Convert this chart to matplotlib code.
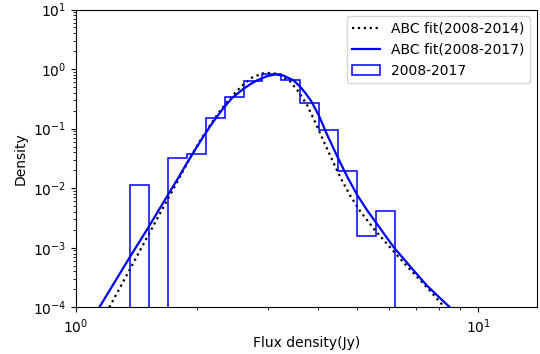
import numpy as np
import matplotlib
matplotlib.use("Agg")
import matplotlib.pyplot as plt

# Histogram of flux densities, 2008-2017 (log-spaced bins)
bin_edges = np.geomspace(1.363, 6.20, 15)
hist_density = [0.0114, 0.0, 0.0325, 0.0379, 0.149, 0.340, 0.638,
                0.817, 0.655, 0.272, 0.0937, 0.0194, 0.00157, 0.00419]

# ABC fit, 2008-2014
fit14_flux = [1.210, 1.363, 1.522, 1.697, 1.816, 1.941, 2.036, 2.156, 2.283,
              2.417, 2.586, 2.738, 2.900, 3.070, 3.220, 3.410, 3.575, 3.752,
              3.936, 4.127, 4.330, 4.542, 4.810, 5.093, 5.496, 6.049, 6.528,
              7.049, 7.607, 8.245]
fit14_dens = [1.0e-4, 4.41e-4, 1.76e-3, 6.85e-3, 0.0159, 0.0363, 0.0631,
              0.115, 0.200, 0.324, 0.525, 0.716, 0.841, 0.867, 0.794, 0.617,
              0.417, 0.251, 0.126, 0.0617, 0.0302, 0.0151, 7.41e-3, 4.07e-3,
              2.09e-3, 1.0e-3, 5.62e-4, 3.24e-4, 1.86e-4, 1.0e-4]

# ABC fit, 2008-2017
fit17_flux = [1.143, 1.363, 1.519, 1.697, 1.798, 1.886, 1.980, 2.074, 2.197,
              2.316, 2.441, 2.610, 2.712, 2.818, 2.984, 3.129, 3.282, 3.475,
              3.611, 3.716, 3.846, 4.016, 4.209, 4.457, 4.719, 4.998, 5.292,
              5.656, 6.165, 6.785, 7.464, 8.500]
fit17_dens = [1.0e-4, 7.08e-4, 2.29e-3, 7.94e-3, 0.0151, 0.0263, 0.0447,
              0.0741, 0.132, 0.214, 0.324, 0.468, 0.556, 0.646, 0.759, 0.813,
              0.776, 0.646, 0.501, 0.398, 0.288, 0.166, 0.0794, 0.0347,
              0.0158, 7.76e-3, 4.27e-3, 2.29e-3, 1.02e-3, 4.79e-4, 2.29e-4,
              1.0e-4]

fig = plt.figure(figsize=(5.4, 3.54), dpi=100)
ax = fig.add_axes([76 / 540, 1 - 307.3 / 354, (537 - 76) / 540, (307.3 - 9.5) / 354])

ax.plot(fit14_flux, fit14_dens, color="black", linestyle=":", linewidth=1.6,
        label="ABC fit(2008-2014)")
ax.plot(fit17_flux, fit17_dens, color="blue", linestyle="-", linewidth=1.6,
        label="ABC fit(2008-2017)")
ax.hist(bin_edges[:-1], bins=bin_edges, weights=hist_density, histtype="step",
        color="blue", linewidth=1.1, label="2008-2017")

ax.set_xscale("log")
ax.set_yscale("log")
ax.set_xlim(1, 14)
ax.set_ylim(1e-4, 10)
ax.set_xlabel("Flux density(Jy)", labelpad=0.5)
ax.set_ylabel("Density")
ax.legend(loc="upper right")

fig.savefig("out.png", dpi=100)
